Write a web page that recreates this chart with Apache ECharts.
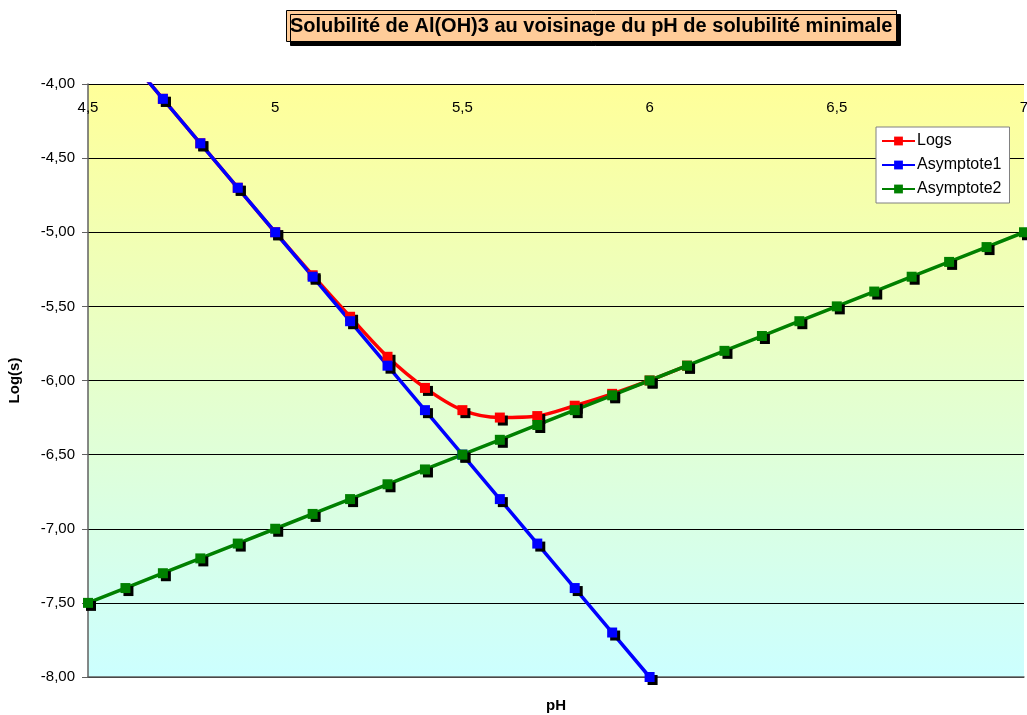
<!DOCTYPE html>
<html><head><meta charset="utf-8">
<script src="https://cdn.jsdelivr.net/npm/echarts@6/dist/echarts.min.js"></script>
<style>html,body{margin:0;padding:0;background:#fff}#c{width:1027px;height:715px}</style>
</head><body><div id="c"></div>
<script>
const titleText = "Solubilité de Al(OH)3 au voisinage du pH de solubilité minimale";
const pH = [4.5,4.6,4.7,4.8,4.9,5.0,5.1,5.2,5.3,5.4,5.5,5.6,5.7,5.8,5.9,6.0,6.1,6.2,6.3,6.4,6.5,6.6,6.7,6.8,6.9,7.0];
const logs = [-3.5,-3.8,-4.1,-4.4,-4.7,-5.0,-5.29,-5.57,-5.84,-6.05,-6.20,-6.25,-6.24,-6.17,-6.09,-6.00,-5.90];
const asymptote1 = [-3.5,-3.8,-4.1,-4.4,-4.7,-5.0,-5.3,-5.6,-5.9,-6.2,-6.5,-6.8,-7.1,-7.4,-7.7,-8.0];
const asymptote2 = [-7.5,-7.4,-7.3,-7.2,-7.1,-7.0,-6.9,-6.8,-6.7,-6.6,-6.5,-6.4,-6.3,-6.2,-6.1,-6.0,-5.9,-5.8,-5.7,-5.6,-5.5,-5.4,-5.3,-5.2,-5.1,-5.0];
const xTicks = {min:4.5, max:7, interval:0.5};
const yTicks = {min:-8, max:-4, interval:0.5};

const pairs = arr => arr.map((v,i)=>[pH[i], v]);
const font = "Arial, 'Liberation Sans', sans-serif";
const shadow = {shadowColor:'#000', shadowOffsetX:3, shadowOffsetY:3, shadowBlur:0};
function mk(name, color, arr, smooth){
  return {name, type:'line', data:pairs(arr), smooth: smooth||false, symbol:'rect', symbolSize:10,
    lineStyle:{color, width:3.5}, itemStyle:Object.assign({color}, shadow), clip:true, z: 2};
}
const chart = echarts.init(document.getElementById('c'));
chart.setOption({
  animation:false,
  backgroundColor:'#fff',
  title:{text:titleText, left:286, top:10, padding:[4,4,4,4],
    backgroundColor:'#FFCC99', borderColor:'#000', borderWidth:1,
    shadowColor:'#000', shadowOffsetX:4, shadowOffsetY:4, shadowBlur:0,
    textStyle:{fontFamily:font, fontSize:20, fontWeight:'bold', color:'#000', lineHeight:24}},
  legend:{orient:'vertical', left:876, top:127, backgroundColor:'#fff', borderColor:'#808080', borderWidth:1,
    padding:[6,8,6,5], itemGap:8, itemWidth:33, itemHeight:11,
    textStyle:{fontFamily:font, fontSize:16, color:'#000', padding:[0,0,0,-3]},
    itemStyle:{shadowColor:'rgba(0,0,0,0)', shadowOffsetX:0, shadowOffsetY:0},
    data:['Logs','Asymptote1','Asymptote2']},
  grid:{left:88, right:3, top:84, bottom:38, show:true, borderWidth:0, containLabel:false, outerBoundsMode:'none',
    backgroundColor:new echarts.graphic.LinearGradient(0,0,0,1,[{offset:0,color:'#FFFF99'},{offset:1,color:'#CCFFFF'}])},
  xAxis:[
    {type:'value', position:'top', min:xTicks.min, max:xTicks.max, interval:xTicks.interval,
      axisLine:{show:false}, axisTick:{show:false}, splitLine:{show:false},
      axisLabel:{inside:true, margin:16, fontFamily:font, fontSize:15, color:'#000',
        formatter:v=>String(v).replace('.',',')}},
    {type:'value', position:'bottom', min:xTicks.min, max:xTicks.max, interval:xTicks.interval,
      axisLine:{show:true, lineStyle:{color:'#606060', width:1.5}}, axisTick:{show:false}, splitLine:{show:false},
      axisLabel:{show:false}, name:'pH', nameLocation:'middle', nameGap:21,
      nameTextStyle:{fontFamily:font, fontSize:15, fontWeight:'bold', color:'#000'}}
  ],
  yAxis:{type:'value', min:yTicks.min, max:yTicks.max, interval:yTicks.interval,
    axisLine:{show:true, lineStyle:{color:'#606060', width:1.5}},
    axisTick:{show:true, length:6, lineStyle:{color:'#606060'}},
    splitLine:{show:true, lineStyle:{color:'#000', width:1}},
    axisLabel:{fontFamily:font, fontSize:15, color:'#000', margin:13, formatter:v=>v.toFixed(2).replace('.',',')},
    name:'Log(s)', nameLocation:'middle', nameGap:66, nameRotate:90,
    nameTextStyle:{fontFamily:font, fontSize:15, fontWeight:'bold', color:'#000'}},
  series:[
    mk('Logs','#FF0000',logs,0.3),
    mk('Asymptote1','#0000FF',asymptote1),
    mk('Asymptote2','#008000',asymptote2)
  ]
});
</script></body></html>
